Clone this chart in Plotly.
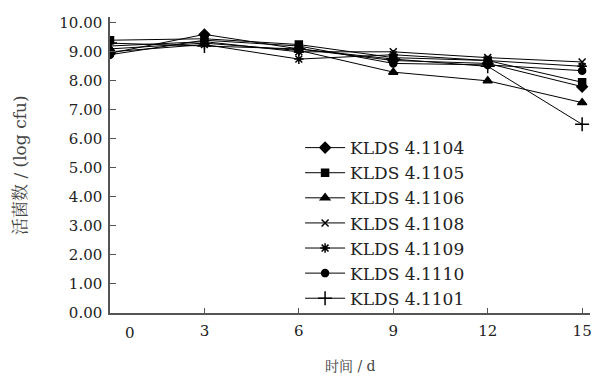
import plotly.graph_objects as go

days = [0, 3, 6, 9, 12, 15]
strains = ["KLDS 4.1104", "KLDS 4.1105", "KLDS 4.1106", "KLDS 4.1108",
           "KLDS 4.1109", "KLDS 4.1110", "KLDS 4.1101"]
v_1104 = [8.95, 9.60, 9.10, 8.70, 8.60, 7.80]
v_1105 = [9.40, 9.45, 9.25, 8.80, 8.70, 7.95]
v_1106 = [9.10, 9.30, 9.05, 8.30, 8.00, 7.25]
v_1108 = [9.20, 9.35, 9.00, 9.00, 8.80, 8.65]
v_1109 = [9.00, 9.25, 8.75, 8.90, 8.70, 8.50]
v_1110 = [8.90, 9.40, 9.20, 8.60, 8.55, 8.35]
v_1101 = [9.30, 9.20, 9.10, 8.75, 8.50, 6.50]
values = [v_1104, v_1105, v_1106, v_1108, v_1109, v_1110, v_1101]
symbols = ["diamond", "square", "triangle-up", "x-thin-open",
           "asterisk-open", "circle", "cross-thin-open"]
sizes = [8, 7, 8, 7, 8, 7, 10]
y_ticks = [i * 1.0 for i in range(11)]
y_ticktext = ["%.2f" % t for t in y_ticks]
x_ticks = [3, 6, 9, 12, 15]

serif = "DejaVu Serif, Noto Serif CJK SC, Noto Sans CJK SC, serif"

fig = go.Figure()
for name, vals, sym, sz in zip(strains, values, symbols, sizes):
    fig.add_trace(go.Scatter(
        x=days, y=vals, name=name, mode="lines+markers",
        line=dict(color="black", width=1),
        marker=dict(symbol=sym, size=sz, color="black",
                    line=dict(color="black", width=1.5)),
    ))

fig.update_layout(
    width=598, height=378,
    margin=dict(l=110, r=8, t=17, b=65),
    paper_bgcolor="white", plot_bgcolor="white",
    font=dict(family=serif, color="#222", size=15),
    showlegend=True,
    legend=dict(x=0.396, y=0.618, xanchor="left", yanchor="top",
                bgcolor="rgba(0,0,0,0)", font=dict(size=17, color="#222"),
                tracegroupgap=0, itemwidth=40),
    xaxis=dict(range=[0, 15.25], tickvals=x_ticks, ticks="inside", ticklen=5,
               tickcolor="#555", showline=True, linecolor="#555", linewidth=1.5,
               showgrid=False, zeroline=False, tickfont=dict(size=15),
               automargin=False, ticklabelstandoff=3),
    yaxis=dict(range=[0, 10.2], tickvals=y_ticks, ticktext=y_ticktext,
               ticks="inside", ticklen=6, tickcolor="#555", showline=True,
               linecolor="#555", linewidth=1.5, showgrid=False, zeroline=False,
               tickfont=dict(size=15), automargin=False, ticklabelstandoff=3),
    annotations=[
        dict(text="0", x=0.65, y=0, xref="x", yref="paper", yanchor="top",
             yshift=-9, showarrow=False, font=dict(size=15)),
        dict(text="时间 / d", x=0.5, y=0, xref="paper", yref="paper",
             yanchor="middle", yshift=-53, showarrow=False,
             font=dict(size=14, color="#444")),
        dict(text="活菌数 / (log cfu)", x=0, y=0.5, xref="paper", yref="paper",
             xanchor="center", xshift=-90, textangle=-90, showarrow=False,
             font=dict(size=17, color="#444")),
    ],
)

fig.write_html("out.html", config={"displayModeBar": False},
               post_script="document.body.style.margin='0';")
